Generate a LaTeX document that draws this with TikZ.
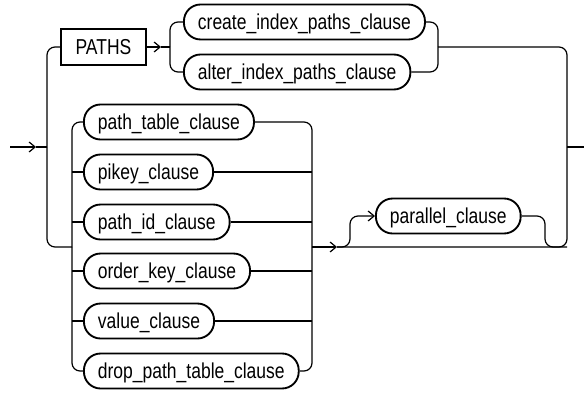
\documentclass[tikz,border=0pt]{standalone}
\usepackage{fontspec}
\setmainfont{Liberation Sans}[FakeStretch=0.81]
\usetikzlibrary{arrows.meta}

\tikzset{
  clause/.style={draw, line width=1.4pt, rounded corners=12.5pt, minimum height=26.25pt,
    inner xsep=10.5pt, text height=11.5pt, text depth=0.5pt, anchor=west},
  keyword/.style={draw, line width=1.4pt, minimum height=27pt, minimum width=63.75pt,
    text height=11.5pt, text depth=0.5pt, anchor=west},
  rail/.style={line width=0.9pt, rounded corners=6pt},
  tip/.style={-{Straight Barb[length=4.5pt,width=7.5pt]}}
}

\begin{document}
\begin{tikzpicture}[x=0.75pt, y=-0.75pt, every node/.style={font=\fontsize{16.2}{19}\selectfont}]
    \useasboundingbox (0,0) rectangle (584,392);
    \node[keyword] (paths) at (60,47) {PATHS};
    \node[clause] (create) at (183,22) {create\_index\_paths\_clause};
    \node[clause] (alter) at (183,72) {alter\_index\_paths\_clause};
    \foreach \n/\t/\y in {ptab/path\_table\_clause/122, pikey/pikey\_clause/172,
        pathid/path\_id\_clause/222, orderkey/order\_key\_clause/271,
        value/value\_clause/321, droptab/drop\_path\_table\_clause/371} {
      \node[clause] (\n) at (83,\y) {\t};
    }
    \node[clause] (parallel) at (375,216) {parallel\_clause};

    \coordinate (in) at (10,147);
    \coordinate (intip) at (36,147);
    \coordinate (split) at (47,147);
    \coordinate (join) at (72,247);
    \coordinate (ptip) at (161,47);
    \coordinate (pfork) at (170,47);
    \coordinate (pmerge) at (438,47);
    \coordinate (lmerge) at (312,247);
    \coordinate (btip) at (337,247);
    \coordinate (pup) at (350,216);
    \coordinate (pback) at (545,247);
    \coordinate (out) at (567,147);
    \coordinate (bend) at (567,247);
    \coordinate (end) at (584,147);

    \draw[rail, tip] (in) -- (intip);
    \draw[rail] (intip) -- (split);
    \draw[rail] (split) |- (paths.west);
    \draw[rail] (split) |- (join);
    \draw[rail, tip] (paths.east) -- (ptip);
    \draw[rail] (ptip) -- (pfork);
    \draw[rail] (pfork) |- (create.west);
    \draw[rail] (pfork) |- (alter.west);
    \draw[rail] (create.east) -| (pmerge);
    \draw[rail] (alter.east) -| (pmerge);
    \draw[rail] (pmerge) -| (out);

    \draw[rail] (join) |- (ptab.west);
    \draw[rail] (join) |- (droptab.west);
    \draw[rail] (ptab.east) -| (lmerge);
    \draw[rail] (droptab.east) -| (lmerge);
    \foreach \n in {pikey,pathid,orderkey,value} {
      \draw[rail] (\n.west -| join) -- (\n.west);
      \draw[rail] (\n.east) -- (\n.east -| lmerge);
    }

    \draw[rail, tip] (lmerge) -- (btip);
    \draw[rail, tip] (btip) -| (pup) -- (parallel.west);
    \draw[rail] (parallel.east) -| (pback) -- (bend);
    \draw[rail] (btip) -| (out);
    \draw[rail] (out) -- (end);
  \end{tikzpicture}
\end{document}
